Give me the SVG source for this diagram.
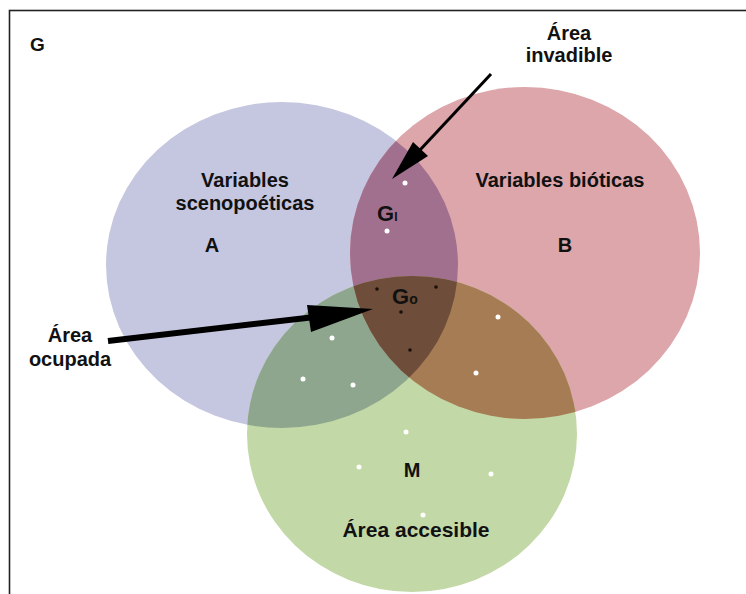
<svg xmlns="http://www.w3.org/2000/svg" width="746" height="594" viewBox="0 0 746 594">
<style>
text{font-family:"Liberation Sans",Arial,sans-serif;font-weight:bold;fill:#111;}
.lbl{font-size:20px;text-anchor:middle;}
.wd{fill:#fff;}
.bd{fill:#1a1008;}
</style>
<defs>
<clipPath id="cA"><ellipse cx="282" cy="265" rx="176" ry="163"/></clipPath>
<clipPath id="cB"><ellipse cx="525" cy="253" rx="175" ry="166"/></clipPath>
</defs>
<rect x="0" y="0" width="746" height="594" fill="#fff"/>
<rect x="9.5" y="10.5" width="800" height="700" fill="none" stroke="#222" stroke-width="1.6"/>
<g id="A"><ellipse cx="282" cy="265" rx="176" ry="163" fill="#c5c6e0"/></g>
<g id="B"><ellipse cx="525" cy="253" rx="175" ry="166" fill="#dca6ab"/></g>
<g id="M"><ellipse cx="412" cy="434" rx="165" ry="158" fill="#c3d8a7"/></g>
<g id="AB" clip-path="url(#cA)"><ellipse cx="525" cy="253" rx="175" ry="166" fill="#a2708f"/></g>
<g id="AM" clip-path="url(#cA)"><ellipse cx="412" cy="434" rx="165" ry="158" fill="#8ea68e"/></g>
<g id="BM" clip-path="url(#cB)"><ellipse cx="412" cy="434" rx="165" ry="158" fill="#a67c54"/></g>
<g id="ABM" clip-path="url(#cA)"><g clip-path="url(#cB)"><ellipse cx="412" cy="434" rx="165" ry="158" fill="#6e4d3a"/></g></g>
<g id="dots">
<circle class="wd" cx="405" cy="183" r="2.5"/>
<circle class="wd" cx="387" cy="231" r="2.5"/>
<circle class="wd" cx="498" cy="317" r="2.5"/>
<circle class="wd" cx="332" cy="338" r="2.5"/>
<circle class="wd" cx="303" cy="379" r="2.5"/>
<circle class="wd" cx="353" cy="385" r="2.5"/>
<circle class="wd" cx="476" cy="373" r="2.5"/>
<circle class="wd" cx="406" cy="432" r="2.5"/>
<circle class="wd" cx="359" cy="467" r="2.5"/>
<circle class="wd" cx="491" cy="474" r="2.5"/>
<circle class="wd" cx="423" cy="515" r="2.5"/>
<circle class="bd" cx="377" cy="289" r="1.8"/>
<circle class="bd" cx="436" cy="287" r="1.8"/>
<circle class="bd" cx="401" cy="312" r="1.8"/>
<circle class="bd" cx="410" cy="350" r="1.8"/>
</g>
<g id="connectors">
<line x1="491" y1="74" x2="420" y2="150" stroke="#000" stroke-width="3"/>
<polygon points="392,179 413,142 428,156" fill="#000"/>
<line x1="108" y1="341" x2="315" y2="317" stroke="#000" stroke-width="6"/>
<polygon points="373,309 307,305 311,332" fill="#000"/>
</g>
<g id="labels">
<text x="30" y="51" style="font-size:19px">G</text>
<text class="lbl" x="569" y="40">Área</text>
<text class="lbl" x="569" y="62">invadible</text>
<text class="lbl" x="245" y="187">Variables</text>
<text class="lbl" x="245" y="210">scenopoéticas</text>
<text class="lbl" x="212" y="252">A</text>
<text class="lbl" x="560" y="187">Variables bióticas</text>
<text class="lbl" x="565" y="252">B</text>
<text x="377" y="221" style="font-size:22px">G<tspan style="font-size:12px">I</tspan></text>
<text x="392" y="304" style="font-size:22px">G<tspan style="font-size:14px">o</tspan></text>
<text class="lbl" x="412" y="477">M</text>
<text class="lbl" x="70" y="342">Área</text>
<text class="lbl" x="70" y="366">ocupada</text>
<text class="lbl" x="416" y="537" style="font-size:21px">Área accesible</text>
</g>
</svg>
